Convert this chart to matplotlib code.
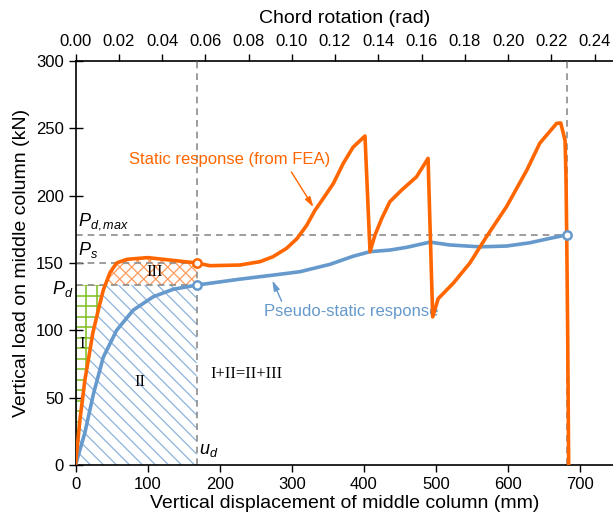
import numpy as np
import matplotlib
matplotlib.use("Agg")
import matplotlib.pyplot as plt
from matplotlib.patches import Polygon

plt.rcParams["font.family"] = ["Liberation Sans", "DejaVu Sans"]
plt.rcParams["mathtext.fontset"] = "custom"
plt.rcParams["mathtext.it"] = "Liberation Sans:italic"
plt.rcParams["mathtext.rm"] = "Liberation Sans"

# static response (from FEA), u in mm, P in kN
static_u = [0, 6, 13, 20, 24, 31.6, 38.6, 48, 57, 71, 100, 131, 168, 186.5, 228, 256, 274, 293,
            307, 320.7, 332, 343.7, 357.6, 371.4, 385, 401.5, 408.5, 415.4, 424.7, 436, 452,
            473, 489, 495.4, 503, 524, 547, 570, 598, 626, 644, 667.4, 673, 679, 680.3,
            681.3, 682.6, 684]
static_P = [0, 33, 63, 85, 98, 115, 130, 143, 150, 152.7, 154, 152.2, 150, 148, 148.5, 151, 154.7, 161,
            168, 178, 189, 198, 209, 224, 236, 244.3, 158.4, 170.8, 183, 195.5, 204,
            214, 227.7, 110, 123.5, 135, 150, 169.5, 192, 219, 239, 253.7, 254, 241, 214,
            170.8, 100, 0]

# pseudo-static response
pseudo_u = [0, 13, 25, 38.5, 57, 80, 108, 135.6, 168, 228, 274, 311, 353, 385, 408.5,
            436, 459, 491.7, 519, 561, 598, 630, 658, 682]
pseudo_P = [0, 24, 53, 80, 100, 115, 125, 130.5, 133.6, 138, 141, 143.5, 149, 155, 158.4,
            159.6, 161.6, 165.5, 163.4, 162, 162.6, 165, 168.3, 171]

u_d = 168
u_end = 682
P_d = 133.6
P_s = 150
P_dmax = 171
chord_len = 3000  # mm, chord rotation = u / chord_len

orange = "#FF6600"
blue = "#6699CC"
green = "#7CBD1E"
gray = "#8C8C8C"

fig = plt.figure(figsize=(6.13, 5.19), dpi=100)
ax = fig.add_axes([75.5 / 613, 1 - 465 / 519, 1 - 75.5 / 613, (465 - 61) / 519])
ax.set_xlim(0, 745.5)
ax.set_ylim(0, 300)


def hatch(verts, angles, spacing, color, lw=0.9):
    poly = Polygon(verts, closed=True, fc="none", ec="none", transform=ax.transData)
    ax.add_patch(poly)
    pix = ax.transData.transform(np.asarray(verts, float))
    x0, y0 = pix.min(0)
    x1, y1 = pix.max(0)
    inv = ax.transData.inverted()
    for ang in angles:
        if ang == 0:
            ys = np.arange(y1, y0 - spacing, -spacing)
            segs = [((x0 - 5, y), (x1 + 5, y)) for y in ys]
        elif ang == 90:
            xs = np.arange(x0, x1 + spacing, spacing)
            segs = [((x, y0 - 5), (x, y1 + 5)) for x in xs]
        else:
            s = np.tan(np.radians(ang))
            span = (y1 - y0)
            xs = np.arange(x0 - span - spacing, x1 + span + spacing, spacing)
            segs = [((x, y0), (x + (y1 - y0) / s, y1)) for x in xs]
        for a, b in segs:
            d = inv.transform([a, b])
            ln, = ax.plot(d[:, 0], d[:, 1], color=color, lw=lw, zorder=1)
            ln.set_clip_path(poly)


# region boundaries from the static curve
su = np.array(static_u)
sp = np.array(static_P)
k_rise = 8
u_at_Pd = np.interp(P_d, sp[:k_rise], su[:k_rise])
rise = [(u, p) for u, p in zip(su, sp) if p < P_d and u < u_at_Pd]
top = [(u, p) for u, p in zip(su, sp) if u_at_Pd < u < u_d and p > P_d]
P_at_ud = np.interp(u_d, su[:13], sp[:13])

region1 = [(0, 0)] + rise[1:] + [(u_at_Pd, P_d), (0, P_d)]
region2 = rise + [(u_at_Pd, P_d), (u_d, P_d), (u_d, 0)]
region3 = [(u_at_Pd, P_d)] + top + [(u_d, P_at_ud), (u_d, P_d)]

hatch(region2, [-45], 13, "#8DB3DE")
hatch(region3, [45, -45], 12, "#FF9A5C")
hatch(region1, [0, 90], 10.5, green, lw=1.1)

# dashed reference lines
dash = dict(color=gray, lw=1.2, ls=(0, (4, 3)), zorder=2)
ax.plot([0, u_end], [P_dmax, P_dmax], **dash)
ax.plot([0, u_d], [P_s, P_s], **dash)
ax.plot([0, u_d], [P_d, P_d], **dash)
ax.plot([u_d, u_d], [0, 300], clip_on=False, **dash)
ax.plot([u_end, u_end], [0, 300], clip_on=False, **dash)

ax.plot(static_u, static_P, color=orange, lw=2.6, zorder=4, solid_joinstyle="round")
ax.plot(pseudo_u, pseudo_P, color=blue, lw=2.6, zorder=3, solid_joinstyle="round")

ax.plot([u_d], [P_at_ud], "o", ms=6, mfc="white", mec=orange, mew=1.8, zorder=5)
ax.plot([u_d, u_end], [P_d, P_dmax], "o", ls="none", ms=6, mfc="white", mec=blue, mew=1.8, zorder=5)

# labels
ax.text(3, 173, r"$P_{d,max}$", fontsize=13, va="bottom", ha="left")
ax.text(3, 152, r"$P_s$", fontsize=13, va="bottom", ha="left")
ax.text(-3, P_d - 3, r"$P_d$", fontsize=13, va="center", ha="right", clip_on=False)
ax.text(u_d + 3, 11, r"$u_d$", fontsize=13, va="center", ha="left")

serif = dict(family="Liberation Serif", fontsize=12, ha="center", va="center", zorder=6)
ax.text(8.6, 90, "I", **serif)
ax.text(89.5, 62, "II", **serif)
ax.text(110, 143, "III", **serif)
ax.text(237.5, 67.5, "I+II=II+III", **serif)

ax.annotate("Static response (from FEA)", xy=(330, 191.5), xytext=(214, 227),
            color=orange, fontsize=12, ha="center", va="center",
            arrowprops=dict(arrowstyle="-|>,head_length=0.5,head_width=0.15", color=orange, lw=1,
                            shrinkA=2, shrinkB=0, relpos=(0.79, 0.0)))
ax.annotate("Pseudo-static response", xy=(273, 137), xytext=(382, 114),
            color=blue, fontsize=12, ha="center", va="center",
            arrowprops=dict(arrowstyle="-|>,head_length=0.5,head_width=0.15", color=blue, lw=1,
                            shrinkA=0, shrinkB=0, relpos=(0.11, 1.0)))

ax.set_xticks(np.arange(0, 701, 100))
ax.set_yticks(np.arange(0, 301, 50))
ax.tick_params(axis="y", direction="inout", length=10, width=1, labelsize=12)
ax.tick_params(axis="x", direction="out", length=5, width=1, labelsize=12)
ax.spines["right"].set_visible(False)
ax.spines["top"].set_visible(False)
for s in ("left", "bottom"):
    ax.spines[s].set_linewidth(1.2)
ax.set_xlabel("Vertical displacement of middle column (mm)", fontsize=14, labelpad=2)
ax.set_ylabel("Vertical load on middle column (kN)", fontsize=14, labelpad=4)

sec = ax.secondary_xaxis("top", functions=(lambda u: u / chord_len, lambda r: r * chord_len))
sec.set_xticks(np.arange(0, 0.241, 0.02))
sec.set_xticklabels([f"{v:.2f}" for v in np.arange(0, 0.241, 0.02)])
sec.tick_params(direction="out", length=5, width=1, labelsize=12)
sec.spines["top"].set_linewidth(1.2)
sec.set_xlabel("Chord rotation (rad)", fontsize=14, labelpad=8)

fig.savefig("out.png", dpi=100)
